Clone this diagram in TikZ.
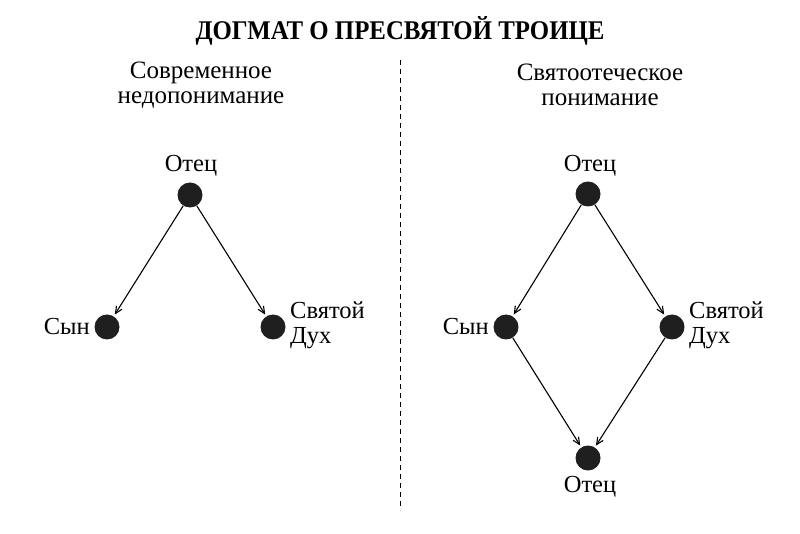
\documentclass[tikz,border=0pt]{standalone}
\usepackage{fontspec}
\usepackage{graphicx}
\setmainfont{Liberation Serif}
\usetikzlibrary{arrows.meta}
\tikzset{
  dot/.style={circle,fill=black!88,minimum size=25pt,inner sep=0pt},
  lbl/.style={font=\fontsize{24.5}{25}\selectfont,inner sep=0pt},
  sub/.style={font=\fontsize{25}{25}\selectfont,align=center,inner sep=0pt},
  arr/.style={-{Straight Barb[length=7pt,width=6.5pt]},line width=1.1pt,shorten >=2pt,shorten <=0pt},
}
\begin{document}
\begin{tikzpicture}[x=1pt,y=-1pt]
\useasboundingbox[fill=white] (0,0) rectangle (800,534);
\node[inner sep=0pt] (title) at (400,31) {\scalebox{0.92}[1]{\fontsize{27}{30}\selectfont\bfseries ДОГМАТ О ПРЕСВЯТОЙ ТРОИЦЕ}};
\coordinate (dtop) at (400,60);
\coordinate (dbot) at (400,510);
\draw[dashed,dash pattern=on 5pt off 4pt,line width=0.7pt] (dtop) -- (dbot);
\node[sub] (subl) at (201,85) {Современное\\недопонимание};
\node[sub] (subr) at (600,85) {Святоотеческое\\понимание};
% left
\node[dot] (lf) at (190,195) {};
\node[dot] (ls) at (107,327) {};
\node[dot] (lh) at (273,327) {};
\node[lbl] (lfl) at (191,166) {Отец};
\node[lbl,anchor=east] (lsl) at (90,327) {Сын};
\node[lbl,anchor=west,align=left] (lhl) at (290,325) {Святой\\Дух};
\draw[arr] (lf) -- (ls);
\draw[arr] (lf) -- (lh);
% right
\node[dot] (rf) at (588,194) {};
\node[dot] (rs) at (506,327) {};
\node[dot] (rh) at (672,327) {};
\node[dot] (rb) at (588,458) {};
\node[lbl] (rfl) at (590,166) {Отец};
\node[lbl,anchor=east] (rsl) at (489,327) {Сын};
\node[lbl,anchor=west,align=left] (rhl) at (689,325) {Святой\\Дух};
\node[lbl] (rbl) at (590,487) {Отец};
\draw[arr] (rf) -- (rs);
\draw[arr] (rf) -- (rh);
\draw[arr] (rs) -- (rb);
\draw[arr] (rh) -- (rb);
\end{tikzpicture}
\end{document}
